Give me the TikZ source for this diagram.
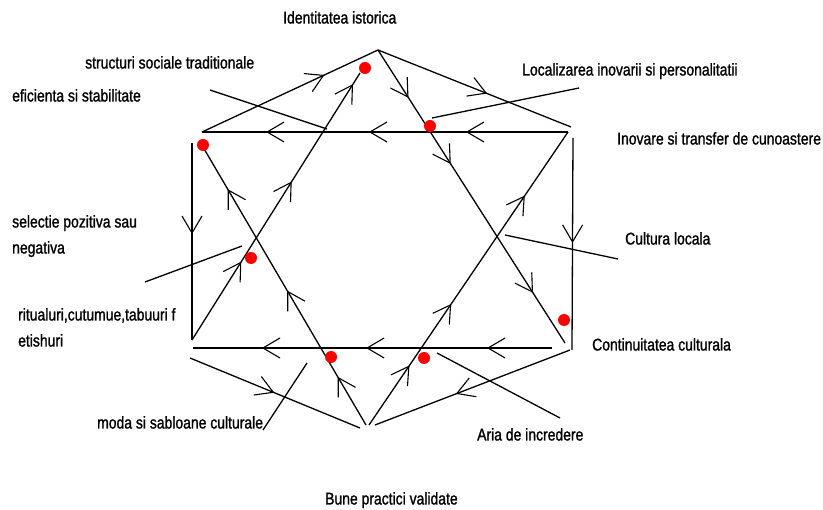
\documentclass[tikz,border=0pt]{standalone}
\usepackage{fontspec}
\setmainfont{Liberation Sans}[FakeStretch=0.82,FakeBold=1.2]
\usetikzlibrary{decorations.markings}
\newcommand\chevmark{\draw[line width=1.1pt] (-17pt,10pt) -- (0pt,0pt) -- (-17pt,-10pt);}
\tikzset{
 ln/.style={line width=1.3pt},
 ch/.style={postaction={decorate,decoration={markings,mark=at position #1 with {\chevmark}}}},
 lead/.style={line width=1.3pt},
 dot/.style={circle,fill=red,draw=none,inner sep=0pt,minimum size=12pt},
 lbl/.style={anchor=west,inner sep=0pt,font=\fontsize{17}{19}\selectfont,text height=12.5pt,text depth=3.5pt}
}
\begin{document}
\begin{tikzpicture}[x=1pt,y=-1pt]
\useasboundingbox[fill=white] (0,0) rectangle (823,510);
% vertices
\coordinate (A) at (378,50);
\coordinate (HL) at (202,132);
\coordinate (HR) at (568,132);
\coordinate (TR) at (571,127);
\coordinate (V1t) at (192,143);
\coordinate (V1b) at (192,340);
\coordinate (BHL) at (193,348);
\coordinate (BHR) at (552,348);
\coordinate (V2t) at (573,138);
\coordinate (V2b) at (572,350);
\coordinate (P9b) at (360,73);
\coordinate (P10b) at (565,343);
\coordinate (P7a) at (203,147);
\coordinate (B) at (366,425);
\coordinate (B2) at (369,425);
\coordinate (P11a) at (190,358);
\coordinate (P11b) at (360,428);
\coordinate (P12a) at (570,350);
\coordinate (P12b) at (375,425);
% hexagon-like outline
\draw[ln,ch=0.69] (HL) -- (A);
\draw[ln,ch=0.56] (A) -- (TR);
\draw[ln,ch=0.276,ch=0.541,ch=0.822] (HR) -- (HL);
\draw[ln,ch=0.178,ch=0.515,ch=0.805] (BHR) -- (BHL);
\draw[ln,ch=0.457] (V1t) -- (V1b);
\draw[ln,ch=0.49] (V2t) -- (V2b);
\draw[ln,ch=0.49] (P11a) -- (P11b);
\draw[ln,ch=0.58] (P12a) -- (P12b);
% star lines
\draw[ln,ch=0.17,ch=0.48,ch=0.845] (B) -- (P7a);
\draw[ln,ch=0.20,ch=0.41,ch=0.78] (B2) -- (HR);
\draw[ln,ch=0.29,ch=0.59,ch=0.955] (V1b) -- (P9b);
\draw[ln,ch=0.16,ch=0.386,ch=0.826] (A) -- (P10b);
% red dots
\node[dot] (d1) at (365,68) {};
\node[dot] (d2) at (430,126) {};
\node[dot] (d3) at (203,145) {};
\node[dot] (d4) at (251,258) {};
\node[dot] (d5) at (331,357) {};
\node[dot] (d6) at (424,358) {};
\node[dot] (d7) at (564,320) {};
% labels
\node[lbl] (t1) at (283,19) {Identitatea istorica};
\node[lbl] (t2) at (85,64) {structuri sociale traditionale};
\node[lbl] (t3) at (12,97) {eficienta si stabilitate};
\node[lbl] (t4) at (522,71) {Localizarea inovarii si personalitatii};
\node[lbl] (t5) at (617,140) {Inovare si transfer de cunoastere};
\node[lbl] (t6) at (625,240) {Cultura locala};
\node[lbl] (t7) at (12,223) {selectie pozitiva sau};
\node[lbl] (t8) at (12,249) {negativa};
\node[lbl] (t9) at (18,316) {ritualuri,cutumue,tabuuri f};
\node[lbl] (t10) at (18,342) {etishuri};
\node[lbl] (t11) at (592,346) {Continuitatea culturala};
\node[lbl] (t12) at (97,424) {moda si sabloane culturale};
\node[lbl] (t13) at (477,436) {Aria de incredere};
\node[lbl] (t14) at (325,500) {Bune practici validate};
% leader lines
\coordinate (L1a) at (210,90);  \coordinate (L1b) at (327,129);
\coordinate (L2a) at (579,88);  \coordinate (L2b) at (432,118);
\coordinate (L3a) at (505,235); \coordinate (L3b) at (618,259);
\coordinate (L4a) at (145,282); \coordinate (L4b) at (242,246);
\coordinate (L5a) at (263,430); \coordinate (L5b) at (307,363);
\coordinate (L6a) at (437,353); \coordinate (L6b) at (560,418);
\draw[lead] (L1a) -- (L1b);
\draw[lead] (L2a) -- (L2b);
\draw[lead] (L3a) -- (L3b);
\draw[lead] (L4a) -- (L4b);
\draw[lead] (L5a) -- (L5b);
\draw[lead] (L6a) -- (L6b);
\end{tikzpicture}
\end{document}
